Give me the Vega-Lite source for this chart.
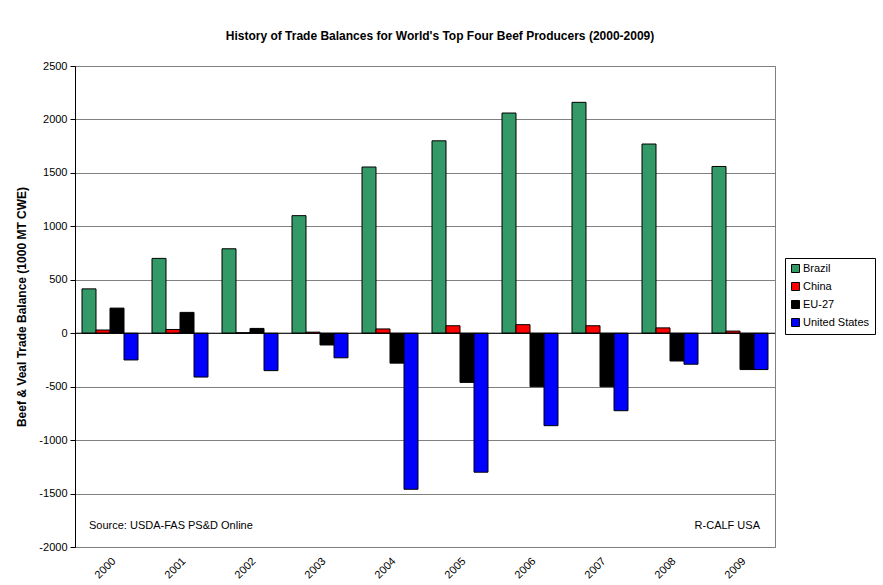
{
  "$schema": "https://vega.github.io/schema/vega-lite/v6.json",
  "width": 700,
  "height": 481,
  "autosize": "none",
  "padding": {"left": 75, "top": 66, "right": 108, "bottom": 38},
  "background": "white",
  "config": {
    "font": "Liberation Sans",
    "view": {"stroke": "#808080", "strokeWidth": 1}
  },
  "title": {
    "text": "History of Trade Balances for World's Top Four Beef Producers (2000-2009)",
    "fontSize": 12,
    "fontWeight": "bold",
    "font": "Liberation Sans",
    "color": "black",
    "offset": 17,
    "dx": 15
  },
  "datasets": {
    "trade": [
      {"year": "2000", "country": "Brazil", "value": 415},
      {"year": "2000", "country": "China", "value": 30},
      {"year": "2000", "country": "EU-27", "value": 235},
      {"year": "2000", "country": "United States", "value": -250},
      {"year": "2001", "country": "Brazil", "value": 700},
      {"year": "2001", "country": "China", "value": 35},
      {"year": "2001", "country": "EU-27", "value": 195},
      {"year": "2001", "country": "United States", "value": -410},
      {"year": "2002", "country": "Brazil", "value": 790},
      {"year": "2002", "country": "China", "value": 5},
      {"year": "2002", "country": "EU-27", "value": 45},
      {"year": "2002", "country": "United States", "value": -350},
      {"year": "2003", "country": "Brazil", "value": 1100},
      {"year": "2003", "country": "China", "value": 10},
      {"year": "2003", "country": "EU-27", "value": -110},
      {"year": "2003", "country": "United States", "value": -230},
      {"year": "2004", "country": "Brazil", "value": 1555},
      {"year": "2004", "country": "China", "value": 40},
      {"year": "2004", "country": "EU-27", "value": -280},
      {"year": "2004", "country": "United States", "value": -1460},
      {"year": "2005", "country": "Brazil", "value": 1800},
      {"year": "2005", "country": "China", "value": 70},
      {"year": "2005", "country": "EU-27", "value": -460},
      {"year": "2005", "country": "United States", "value": -1300},
      {"year": "2006", "country": "Brazil", "value": 2060},
      {"year": "2006", "country": "China", "value": 80},
      {"year": "2006", "country": "EU-27", "value": -500},
      {"year": "2006", "country": "United States", "value": -865},
      {"year": "2007", "country": "Brazil", "value": 2160},
      {"year": "2007", "country": "China", "value": 70},
      {"year": "2007", "country": "EU-27", "value": -500},
      {"year": "2007", "country": "United States", "value": -725},
      {"year": "2008", "country": "Brazil", "value": 1770},
      {"year": "2008", "country": "China", "value": 50},
      {"year": "2008", "country": "EU-27", "value": -260},
      {"year": "2008", "country": "United States", "value": -290},
      {"year": "2009", "country": "Brazil", "value": 1560},
      {"year": "2009", "country": "China", "value": 20},
      {"year": "2009", "country": "EU-27", "value": -340},
      {"year": "2009", "country": "United States", "value": -340}
    ],
    "notes": [
      {"year": "2000", "y": -1800, "label": "Source: USDA-FAS PS&D Online", "side": "left"},
      {"year": "2009", "y": -1800, "label": "R-CALF USA", "side": "right"}
    ]
  },
  "layer": [
    {
      "data": {"name": "trade"},
      "mark": {"type": "bar", "stroke": "black", "strokeWidth": 1},
      "encoding": {
        "x": {
          "field": "year",
          "type": "nominal",
          "scale": {"paddingInner": 0.2, "paddingOuter": 0.1},
          "axis": {
            "title": null,
            "labelAngle": -45,
            "labelFontSize": 11,
            "labelColor": "black",
            "labelPadding": 8,
            "domain": false,
            "ticks": false,
            "grid": false
          }
        },
        "xOffset": {"field": "country", "sort": ["Brazil", "China", "EU-27", "United States"]},
        "y": {
          "field": "value",
          "type": "quantitative",
          "scale": {"domain": [-2000, 2500], "nice": false, "zero": false},
          "axis": {
            "title": "Beef & Veal Trade Balance (1000 MT CWE)",
            "titleFontSize": 12,
            "titleFontWeight": "bold",
            "titleColor": "black",
            "titlePadding": 10,
            "values": [-2000, -1500, -1000, -500, 0, 500, 1000, 1500, 2000, 2500],
            "labelExpr": "datum.value + ''",
            "labelFontSize": 11,
            "labelColor": "black",
            "labelPadding": 3,
            "domainColor": "black",
            "tickColor": "black",
            "tickSize": 5,
            "gridColor": "#808080",
            "gridOpacity": 1,
            "gridWidth": 1
          }
        },
        "color": {
          "field": "country",
          "type": "nominal",
          "scale": {
            "domain": ["Brazil", "China", "EU-27", "United States"],
            "range": ["#339966", "#FF0000", "#000000", "#0000FF"]
          },
          "legend": {
            "title": null,
            "orient": "none",
            "legendX": 710,
            "legendY": 192,
            "symbolType": "square",
            "symbolSize": 64,
            "symbolStrokeColor": "black",
            "symbolStrokeWidth": 1,
            "labelFontSize": 11,
            "labelColor": "black",
            "labelOffset": 2,
            "rowPadding": 5,
            "strokeColor": "black",
            "padding": 5,
            "fillColor": "white"
          }
        }
      }
    },
    {
      "data": {"values": [{"z": 0}]},
      "mark": {"type": "rule", "color": "black", "strokeWidth": 1},
      "encoding": {"y": {"field": "z", "type": "quantitative"}}
    },
    {
      "data": {"name": "notes"},
      "transform": [{"filter": "datum.side === 'left'"}],
      "mark": {"type": "text", "align": "left", "baseline": "middle", "fontSize": 11, "color": "black", "dx": -21},
      "encoding": {
        "x": {"field": "year", "type": "nominal"},
        "y": {"field": "y", "type": "quantitative"},
        "text": {"field": "label"}
      }
    },
    {
      "data": {"name": "notes"},
      "transform": [{"filter": "datum.side === 'right'"}],
      "mark": {"type": "text", "align": "right", "baseline": "middle", "fontSize": 11, "color": "black", "dx": 20},
      "encoding": {
        "x": {"field": "year", "type": "nominal"},
        "y": {"field": "y", "type": "quantitative"},
        "text": {"field": "label"}
      }
    }
  ]
}
